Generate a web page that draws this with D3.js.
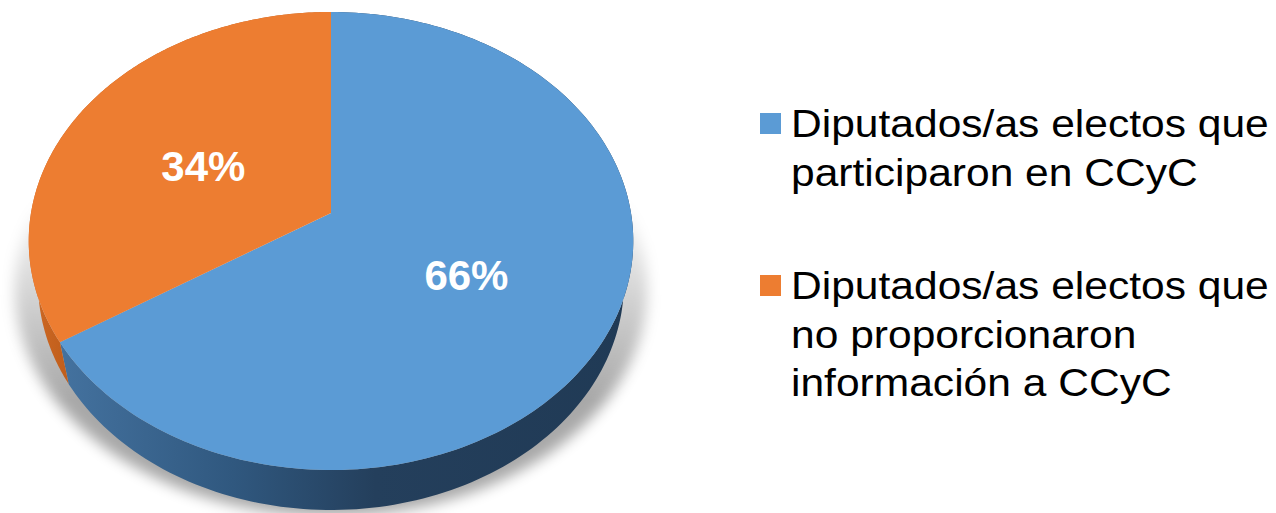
<!DOCTYPE html>
<html>
<head>
<meta charset="utf-8">
<script src="https://cdn.jsdelivr.net/npm/d3@7"></script>
<style>
    body { margin: 0; background: #fff; }
    svg { display: block; font-family: "Liberation Sans", Arial, sans-serif; }
</style>
</head>
<body>
<div id="chart"></div>
<script>
// data
const categories = ["Diputados/as electos que participaron en CCyC",
    "Diputados/as electos que no proporcionaron información a CCyC"]
const values = [66, 34]
const labels = ["66%", "34%"]
const legendLines = [
    ["Diputados/as electos que", "participaron en CCyC"],
    ["Diputados/as electos que", "no proporcionaron", "información a CCyC"]
]
const topColors = ["#5b9bd5", "#ed7d31"]

const width = 1276, height = 513

const svg = d3.select("#chart").append("svg")
    .attr("width", width)
    .attr("height", height)
    .attr("viewBox", [0, 0, width, height])

// perspective camera for the tilted pie
const cx = 331, cy = 213
const tilt = Math.asin(0.752)
const sa = Math.sin(tilt), ca = Math.cos(tilt)
const D = 5.39, F = 1617, thick = 0.2245

// a = angle clockwise from top, r = radius (1 = rim), y = level (0 top face, -thick bottom)
function proj(a, r, y) {
    const X = r * Math.sin(a), Z = -r * Math.cos(a)
    const depth = D - Z * ca - y * sa
    return [cx + X * F / depth, cy + (Z * sa - y * ca) * F / depth]
}

const pie = d3.pie().sort(null).value(d => d)
const arcs = pie(values)

const defs = svg.append("defs")
defs.append("filter").attr("id", "blur")
    .attr("x", "-20%").attr("y", "-20%").attr("width", "140%").attr("height", "140%")
    .append("feGaussianBlur").attr("stdDeviation", 7)

// shadow fades out towards the top
const fade = defs.append("linearGradient").attr("id", "fade")
    .attr("gradientUnits", "userSpaceOnUse")
    .attr("x1", 0).attr("x2", 0).attr("y1", 190).attr("y2", 400)
fade.append("stop").attr("offset", 0).attr("stop-color", "#fff").attr("stop-opacity", 0)
fade.append("stop").attr("offset", 1).attr("stop-color", "#fff").attr("stop-opacity", 1)
defs.append("mask").attr("id", "shadowMask")
    .attr("maskUnits", "userSpaceOnUse")
    .attr("x", 0).attr("y", 0).attr("width", width).attr("height", height)
    .append("rect").attr("width", width).attr("height", height).attr("fill", "url(#fade)")

const sideGrad = defs.append("linearGradient").attr("id", "sideBlue")
    .attr("gradientUnits", "userSpaceOnUse")
    .attr("x1", 60).attr("x2", 634).attr("y1", 0).attr("y2", 0)
sideGrad.selectAll("stop")
    .data([["0", "#44729f"], ["0.3", "#30587f"], ["0.55", "#243f5c"], ["1", "#203a55"]])
    .join("stop")
    .attr("offset", d => d[0])
    .attr("stop-color", d => d[1])
const sideOrange = defs.append("linearGradient").attr("id", "sideOrange")
    .attr("gradientUnits", "userSpaceOnUse")
    .attr("x1", 28).attr("x2", 70).attr("y1", 0).attr("y2", 0)
sideOrange.selectAll("stop")
    .data([["0", "#cf6a25"], ["1", "#bf5d1b"]])
    .join("stop")
    .attr("offset", d => d[0])
    .attr("stop-color", d => d[1])
const sideFills = ["url(#sideBlue)", "url(#sideOrange)"]

const line = d3.line()
const steps = 180

function rim(a0, a1, r, y) {
    const pts = []
    for (let i = 0; i <= steps; i++) {
        pts.push(proj(a0 + (a1 - a0) * i / steps, r, y))
    }
    return pts
}

// soft shadow under the pie
const shadowPts = rim(0, 2 * Math.PI, 1, -thick).map(p => [cx + (p[0] - cx) * 1.08, p[1] + 6])
svg.append("g")
    .attr("mask", "url(#shadowMask)")
    .append("path")
    .attr("d", line(shadowPts) + "Z")
    .attr("fill", "#000")
    .attr("opacity", 0.34)
    .attr("filter", "url(#blur)")

// outer walls
svg.selectAll(".wall")
    .data(arcs)
    .join("path")
    .attr("class", "wall")
    .attr("fill", (d, i) => sideFills[i])
    .attr("d", d => {
        const top = rim(d.startAngle, d.endAngle, 1, 0)
        const bottom = rim(d.startAngle, d.endAngle, 1, -thick).reverse()
        return line(top.concat(bottom)) + "Z"
    })

// top faces
svg.selectAll(".slice")
    .data(arcs)
    .join("path")
    .attr("class", "slice")
    .attr("fill", (d, i) => topColors[i])
    .attr("d", d => line([proj(0, 0, 0)].concat(rim(d.startAngle, d.endAngle, 1, 0))) + "Z")

// percent labels
svg.selectAll(".pct")
    .data(arcs)
    .join("text")
    .attr("class", "pct")
    .attr("x", d => proj((d.startAngle + d.endAngle) / 2, 0.5, 0)[0])
    .attr("y", d => proj((d.startAngle + d.endAngle) / 2, 0.5, 0)[1] + 6)
    .attr("dy", "0.35em")
    .attr("text-anchor", "middle")
    .attr("fill", "#fff")
    .attr("font-weight", "bold")
    .attr("font-size", 42)
    .text((d, i) => labels[i])

// legend
const legendTop = [113, 275]
const legend = svg.selectAll(".legend")
    .data(categories)
    .join("g")
    .attr("class", "legend")
    .attr("transform", (d, i) => `translate(760,${legendTop[i]})`)

legend.append("rect")
    .attr("width", 21)
    .attr("height", 21)
    .attr("fill", (d, i) => topColors[i])

legend.each(function (d, i) {
    d3.select(this).selectAll("text")
        .data(legendLines[i])
        .join("text")
        .attr("transform", (t, j) => `translate(31,${24 + j * 48.5}) scale(1.12,1)`)
        .attr("font-size", 38)
        .attr("fill", "#000")
        .text(t => t)
})
</script>
</body>
</html>
